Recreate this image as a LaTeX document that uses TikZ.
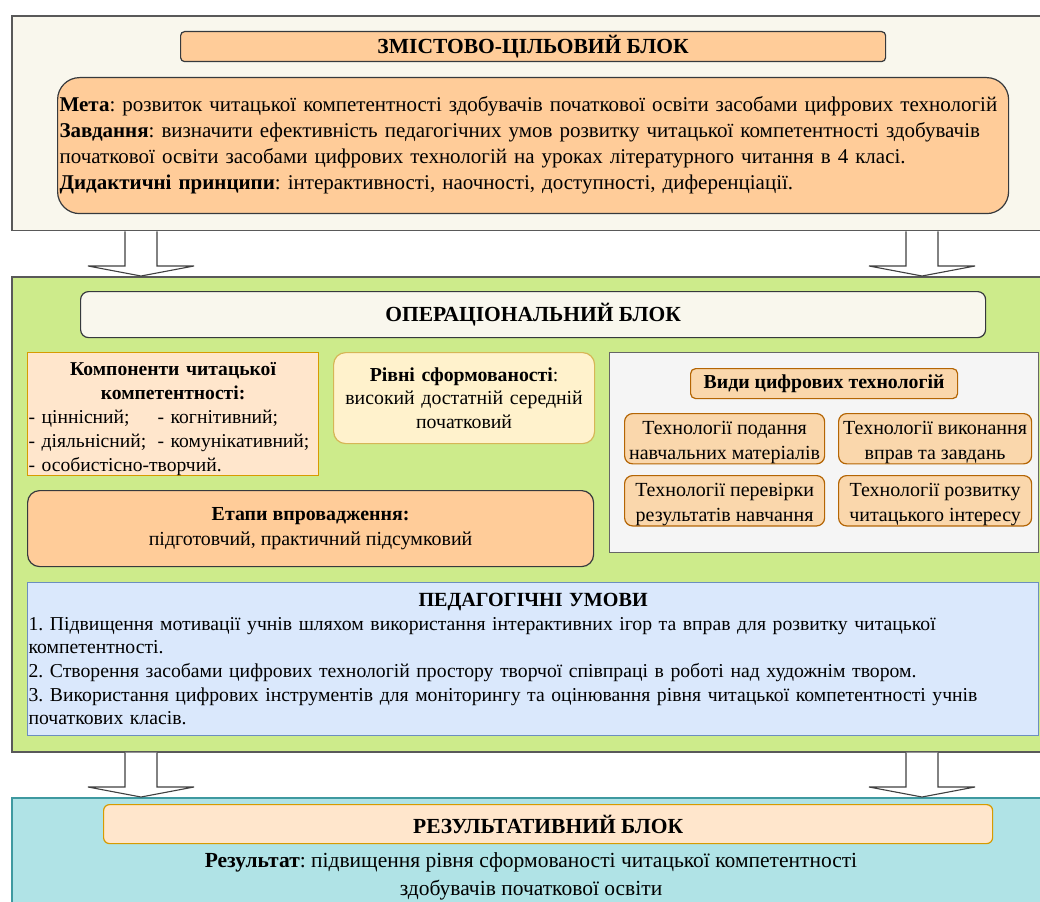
\documentclass[tikz,border=0pt]{standalone}
\usepackage{fontspec}
\setmainfont{Liberation Serif}
\usetikzlibrary{calc}
\frenchspacing

\definecolor{topbg}{HTML}{F9F7ED}
\definecolor{peach}{HTML}{FFCC99}
\definecolor{opgreen}{HTML}{CDEB8B}
\definecolor{lightpeach}{HTML}{FFE6CC}
\definecolor{gold}{HTML}{D79B00}
\definecolor{lightyellow}{HTML}{FFF2CC}
\definecolor{yellowline}{HTML}{D6B656}
\definecolor{lightgray}{HTML}{F5F5F5}
\definecolor{grayline}{HTML}{666666}
\definecolor{orangefill}{HTML}{FAD7AC}
\definecolor{orangeline}{HTML}{B46504}
\definecolor{bluefill}{HTML}{DAE8FC}
\definecolor{blueline}{HTML}{6C8EBF}
\definecolor{tealfill}{HTML}{B0E3E6}
\definecolor{tealline}{HTML}{0E8088}
\definecolor{darkline}{HTML}{36393D}
\definecolor{outerline}{HTML}{595959}

\newcommand\sizeat[2]{\fontsize{#1}{#2}\selectfont\frenchspacing}

\tikzset{
  panel/.style={draw, rectangle, anchor=north west, line width=1.2pt, inner sep=0pt},
  outerblock/.style={panel, line width=1.5pt},
  blockarr/.style={draw=black!75, fill=white, line width=1.1pt,
    to path={let \p1=(\tikztostart), \p2=(\tikztotarget) in
      (\x1-16pt,\y1) -- (\x1-16pt,\y2+10pt) -- (\x1-53pt,\y2+10pt) -- (\x2,\y2)
      -- (\x1+53pt,\y2+10pt) -- (\x1+16pt,\y2+10pt) -- (\x1+16pt,\y1)}},
  titletext/.style={font=\sizeat{21.5}{24}\bfseries},
  techbox/.style={panel, rounded corners=8pt, fill=orangefill, draw=orangeline, align=center, font=\sizeat{20}{25}},
}

\begin{document}
\begin{tikzpicture}[x=1pt,y=-1pt]
\useasboundingbox (0,0) rectangle (1040,901);
\clip (0,0) rectangle (1040,901);
\fill[white] (0,0) rectangle (1040,901);

% three stacked blocks (they run past the right and bottom edges)
\node[outerblock, fill=topbg, draw=outerline, minimum width=1045pt, minimum height=214.5pt] (top) at (11,15.5) {};
\node[outerblock, fill=opgreen, draw=outerline, minimum width=1045pt, minimum height=475pt] (mid) at (11,276) {};
\node[outerblock, fill=tealfill, draw=tealline!80, minimum width=1045pt, minimum height=130pt] (bot) at (11,797) {};

% block arrows between the stages
\coordinate (lx) at (141,0);
\coordinate (rx) at (922,0);
\draw[blockarr] (lx |- top.south) to (lx |- mid.north);
\draw[blockarr] (rx |- top.south) to (rx |- mid.north);
\draw[blockarr] (lx |- mid.south) to (lx |- bot.north);
\draw[blockarr] (rx |- mid.south) to (rx |- bot.north);

% content and goal block
\node[panel, rounded corners=4pt, fill=peach, draw=darkline, minimum width=705pt, minimum height=30pt, titletext] (toptitle) at (180,31) {ЗМІСТОВО-ЦІЛЬОВИЙ БЛОК};
\node[panel, rounded corners=22pt, fill=peach, draw=darkline, minimum width=951pt, minimum height=136pt,
      text width=947pt, inner xsep=2pt, align=left, font=\sizeat{21}{26}] (goal) at (57,77)
 {\textbf{Мета}: розвиток читацької компетентності здобувачів початкової освіти засобами цифрових технологій\\
  \textbf{Завдання}: визначити ефективність педагогічних умов розвитку читацької компетентності здобувачів\\
  початкової освіти засобами цифрових технологій на уроках літературного читання в 4 класі.\\
  \textbf{Дидактичні принципи}: інтерактивності, наочності, доступності, диференціації.};

% operational block
\node[panel, rounded corners=8pt, fill=topbg, draw=darkline, minimum width=905pt, minimum height=46pt, titletext] (optitle) at (80,291) {ОПЕРАЦІОНАЛЬНИЙ БЛОК};

\node[panel, fill=lightpeach, draw=gold, minimum width=291pt, minimum height=123pt,
      text width=289pt, inner xsep=1pt, align=left, font=\sizeat{19.6}{24}] (comp) at (27,352)
 {{\centering\bfseries\rule{0pt}{23pt}Компоненти читацької\\компетентності:\par}
  \makebox[129pt][l]{- ціннісний;}- когнітивний;\\
  \makebox[129pt][l]{- діяльнісний;}- комунікативний;\\
  - особистісно-творчий.};

\node[panel, rounded corners=12pt, fill=lightyellow, draw=yellowline, minimum width=261pt, minimum height=91pt,
      text width=257pt, inner xsep=2pt, align=center, font=\sizeat{19.8}{23.5}] (levels) at (333,352)
 {\textbf{Рівні сформованості}:\\високий достатній середній\\початковий};

\node[panel, fill=lightgray, draw=grayline, minimum width=429pt, minimum height=200pt] (techs) at (609,352) {};
\node[panel, rounded corners=5pt, fill=orangefill, draw=orangeline, minimum width=267pt, minimum height=30pt, font=\sizeat{19.8}{24}\bfseries] (techtitle) at (690,368) {Види цифрових технологій};
\node[techbox, minimum width=200pt, minimum height=48pt] (t1) at (624,413) {\rule{0pt}{21pt}Технології подання\\навчальних матеріалів};
\node[techbox, minimum width=193pt, minimum height=48pt] (t2) at (838,413) {\rule{0pt}{21pt}Технології виконання\\вправ та завдань};
\node[techbox, minimum width=200pt, minimum height=47pt] (t3) at (624,475) {\rule{0pt}{21pt}Технології перевірки\\результатів навчання};
\node[techbox, minimum width=193pt, minimum height=47pt] (t4) at (838,475) {\rule{0pt}{21pt}Технології розвитку\\читацького інтересу};

\node[panel, rounded corners=12pt, fill=peach, draw=darkline, minimum width=566pt, minimum height=76pt,
      align=center, font=\sizeat{19.9}{25}] (stages) at (27,490)
 {\textbf{Етапи впровадження:}\\підготовчий, практичний підсумковий};

\node[panel, fill=bluefill, draw=blueline, minimum width=1011pt, minimum height=153pt,
      text width=1009pt, inner xsep=1pt, align=left, font=\sizeat{19.7}{23.6}] (cond) at (27,582)
 {{\centering\bfseries\fontsize{20.1}{23.6}\selectfont ПЕДАГОГІЧНІ УМОВИ\par}
  1. Підвищення мотивації учнів шляхом використання інтерактивних ігор та вправ для розвитку читацької\\
  компетентності.\\
  2. Створення засобами цифрових технологій простору творчої співпраці в роботі над художнім твором.\\
  3. Використання цифрових інструментів для моніторингу та оцінювання рівня читацької компетентності учнів\\
  початкових класів.};

% result block
\node[panel, rounded corners=6pt, fill=lightpeach, draw=gold, minimum width=889pt, minimum height=39pt, titletext] (restitle) at (103,804) {РЕЗУЛЬТАТИВНИЙ БЛОК};
\node[align=center, font=\sizeat{21.5}{28}, inner sep=0pt, anchor=north] (result) at (531,852)
 {\textbf{Результат}: підвищення рівня сформованості читацької компетентності\\здобувачів початкової освіти};
\end{tikzpicture}
\end{document}
